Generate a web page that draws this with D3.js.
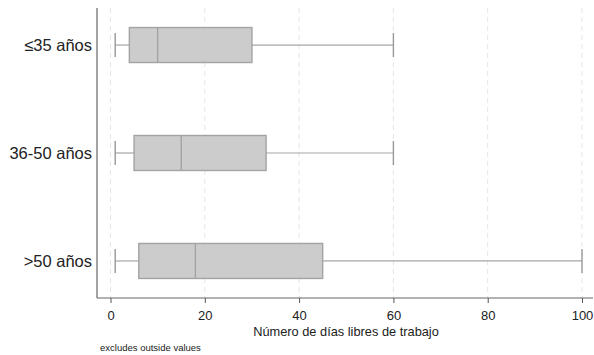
<!DOCTYPE html>
<html>
<head>
<meta charset="utf-8">
<script src="https://cdn.jsdelivr.net/npm/d3@7"></script>
<style>
  body { margin: 0; background: #fff; }
  svg { font-family: "Liberation Sans", Arial, sans-serif; }
</style>
</head>
<body>
<svg id="chart" width="594" height="355"></svg>
<script>
// Age groups and their box plot statistics (days off work)
var groups = ["≤35 años", "36-50 años", ">50 años"];
var lowWhisker = [1, 1, 1];
var q1 = [4, 5, 6];
var medians = [10, 15, 18];
var q3 = [30, 33, 45];
var highWhisker = [60, 60, 100];

var xTicks = [0, 20, 40, 60, 80, 100];

var svg = d3.select("#chart");

var plotLeft = 97, plotRight = 593, plotTop = 8, plotBottom = 298;

var xScale = d3.scaleLinear()
    .domain([0, 100])
    .range([110.5, 582]);

var yScale = d3.scalePoint()
    .domain(groups)
    .range([plotTop, plotBottom])
    .padding(0.343);

var BOX_H = 35;
var CAP_H = 24;

// grid lines
svg.append("g").selectAll("line")
  .data(xTicks)
  .enter().append("line")
  .attr("x1", function (d) { return xScale(d); })
  .attr("x2", function (d) { return xScale(d); })
  .attr("y1", plotTop)
  .attr("y2", plotBottom)
  .style("stroke", "#e6e6e6")
  .style("stroke-width", 1)
  .style("stroke-dasharray", "5,4");

// whiskers
var boxes = svg.append("g").selectAll("g")
  .data(groups)
  .enter().append("g");

boxes.append("line")
  .attr("x1", function (d, i) { return xScale(lowWhisker[i]); })
  .attr("x2", function (d, i) { return xScale(q1[i]); })
  .attr("y1", function (d) { return yScale(d); })
  .attr("y2", function (d) { return yScale(d); })
  .style("stroke", "#a6a6a6").style("stroke-width", 1.2);

boxes.append("line")
  .attr("x1", function (d, i) { return xScale(q3[i]); })
  .attr("x2", function (d, i) { return xScale(highWhisker[i]); })
  .attr("y1", function (d) { return yScale(d); })
  .attr("y2", function (d) { return yScale(d); })
  .style("stroke", "#a6a6a6").style("stroke-width", 1.2);

[lowWhisker, highWhisker].forEach(function (arr) {
  boxes.append("line")
    .attr("x1", function (d, i) { return xScale(arr[i]); })
    .attr("x2", function (d, i) { return xScale(arr[i]); })
    .attr("y1", function (d) { return yScale(d) - CAP_H / 2; })
    .attr("y2", function (d) { return yScale(d) + CAP_H / 2; })
    .style("stroke", "#9a9a9a").style("stroke-width", 1.4);
});

boxes.append("rect")
  .attr("x", function (d, i) { return xScale(q1[i]); })
  .attr("width", function (d, i) { return xScale(q3[i]) - xScale(q1[i]); })
  .attr("y", function (d) { return yScale(d) - BOX_H / 2; })
  .attr("height", BOX_H)
  .style("fill", "#cccccc")
  .style("stroke", "#a3a3a3")
  .style("stroke-width", 1.4);

boxes.append("line")
  .attr("x1", function (d, i) { return xScale(medians[i]); })
  .attr("x2", function (d, i) { return xScale(medians[i]); })
  .attr("y1", function (d) { return yScale(d) - BOX_H / 2; })
  .attr("y2", function (d) { return yScale(d) + BOX_H / 2; })
  .style("stroke", "#a3a3a3").style("stroke-width", 1.4);

// x axis
var xAxis = d3.axisBottom(xScale).tickValues(xTicks).tickSize(5).tickSizeOuter(0);
var gx = svg.append("g")
  .attr("transform", "translate(0," + plotBottom + ")")
  .call(xAxis);
gx.select(".domain").remove();
gx.selectAll(".tick line").style("stroke", "#555");
gx.selectAll(".tick text")
  .attr("dy", "0")
  .attr("y", 22)
  .style("font-size", "13px")
  .style("fill", "#222")
  .style("font-family", "Liberation Sans, Arial, sans-serif");

svg.append("line")
  .attr("x1", plotLeft).attr("x2", plotRight)
  .attr("y1", plotBottom).attr("y2", plotBottom)
  .style("stroke", "#666").style("stroke-width", 1.2);

// y axis
var yAxis = d3.axisLeft(yScale).tickSize(0);
var gy = svg.append("g")
  .attr("transform", "translate(" + plotLeft + ",0)")
  .call(yAxis);
gy.select(".domain").remove();
gy.selectAll(".tick text")
  .attr("x", -5)
  .attr("dy", "0.35em")
  .style("font-size", "16.5px")
  .style("fill", "#222")
  .style("font-family", "Liberation Sans, Arial, sans-serif");

svg.append("line")
  .attr("x1", plotLeft).attr("x2", plotLeft)
  .attr("y1", plotTop).attr("y2", plotBottom)
  .style("stroke", "#666").style("stroke-width", 1.2);

// titles
svg.append("text")
  .attr("x", 346)
  .attr("y", 336)
  .attr("text-anchor", "middle")
  .style("font-size", "12.8px")
  .style("fill", "#222")
  .text("Número de días libres de trabajo");

svg.append("text")
  .attr("x", 100)
  .attr("y", 351)
  .style("font-size", "9.5px")
  .style("fill", "#222")
  .text("excludes outside values");
</script>
</body>
</html>
